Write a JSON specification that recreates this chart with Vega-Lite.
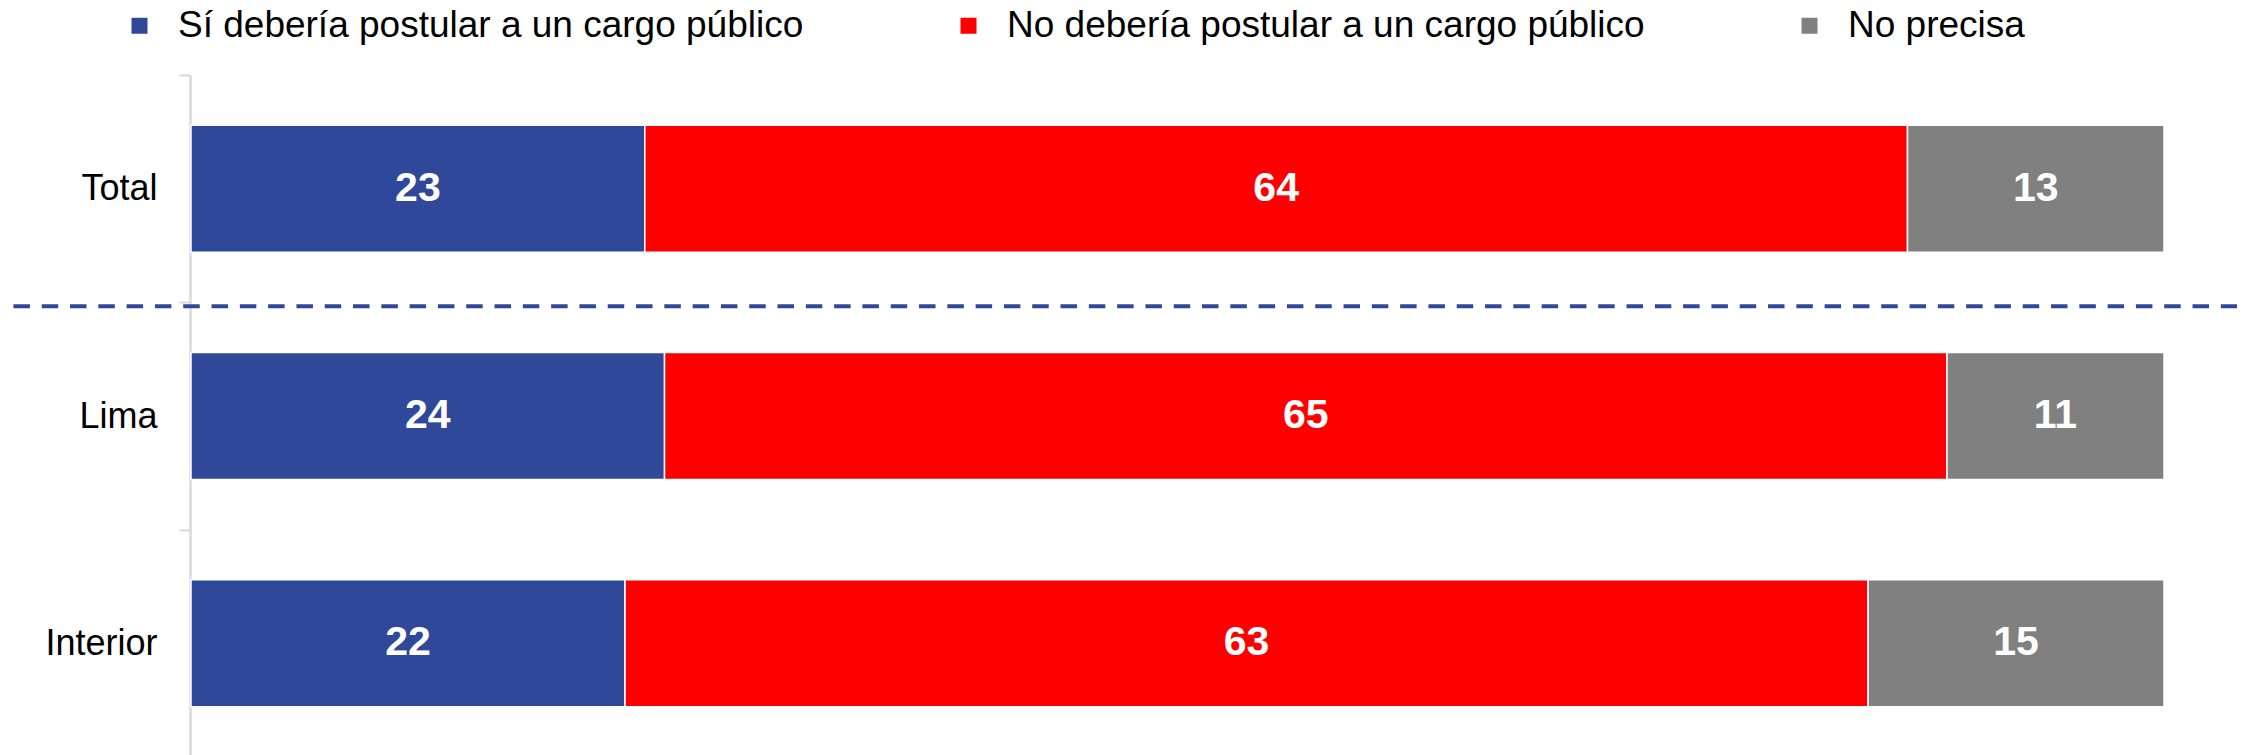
{
  "$schema": "https://vega.github.io/schema/vega-lite/v6.json",
  "width": 1973,
  "height": 680,
  "autosize": "none",
  "padding": {"left": 191, "top": 75, "right": 83, "bottom": 0},
  "background": "white",
  "config": {"view": {"stroke": null}, "font": "Liberation Sans"},
  "data": {
    "values": [
      {"zona": "Total", "respuesta": "Sí debería postular a un cargo público", "orden": 1, "valor": 23},
      {"zona": "Total", "respuesta": "No debería postular a un cargo público", "orden": 2, "valor": 64},
      {"zona": "Total", "respuesta": "No precisa", "orden": 3, "valor": 13},
      {"zona": "Lima", "respuesta": "Sí debería postular a un cargo público", "orden": 1, "valor": 24},
      {"zona": "Lima", "respuesta": "No debería postular a un cargo público", "orden": 2, "valor": 65},
      {"zona": "Lima", "respuesta": "No precisa", "orden": 3, "valor": 11},
      {"zona": "Interior", "respuesta": "Sí debería postular a un cargo público", "orden": 1, "valor": 22},
      {"zona": "Interior", "respuesta": "No debería postular a un cargo público", "orden": 2, "valor": 63},
      {"zona": "Interior", "respuesta": "No precisa", "orden": 3, "valor": 15}
    ]
  },
  "layer": [
    {
      "transform": [
        {"stack": "valor", "groupby": ["zona"], "sort": [{"field": "orden"}], "as": ["x0", "x1"]}
      ],
      "mark": {"type": "bar", "height": {"band": 0.5587}, "stroke": "white", "strokeWidth": 1.5},
      "encoding": {
        "y": {
          "field": "zona", "type": "nominal", "sort": null,
          "scale": {"domain": ["Total", "Lima", "Interior"], "paddingInner": 0, "paddingOuter": 0, "range": [0, 682]},
          "axis": {
            "title": null, "tickBand": "extent", "domainColor": "#d9d9d9", "domainWidth": 2.5,
            "tickColor": "#d9d9d9", "tickWidth": 2, "tickSize": 11, "labelFontSize": 36,
            "labelColor": "black", "labelPadding": 22, "offset": 1, "labelFont": "Liberation Sans"
          }
        },
        "x": {"field": "x0", "type": "quantitative", "scale": {"domain": [0, 100]}, "axis": null},
        "x2": {"field": "x1"},
        "color": {
          "field": "respuesta", "type": "nominal",
          "scale": {
            "domain": ["Sí debería postular a un cargo público", "No debería postular a un cargo público", "No precisa"],
            "range": ["#30489A", "#FF0000", "#808080"]
          },
          "legend": {
            "title": null, "orient": "none", "direction": "horizontal", "legendX": -70, "legendY": -68,
            "symbolType": "square", "symbolSize": 256, "symbolStrokeWidth": 0, "labelFontSize": 37,
            "labelColor": "black", "labelOffset": 20, "columnPadding": 146, "labelLimit": 1000,
            "labelFont": "Liberation Sans", "padding": 0
          }
        }
      }
    },
    {
      "transform": [
        {"stack": "valor", "groupby": ["zona"], "sort": [{"field": "orden"}], "as": ["x0", "x1"]},
        {"calculate": "(datum.x0 + datum.x1) / 2", "as": "xm"}
      ],
      "mark": {"type": "text", "color": "white", "fontWeight": "bold", "fontSize": 41, "baseline": "middle", "font": "Liberation Sans"},
      "encoding": {
        "y": {"field": "zona", "type": "nominal", "sort": null},
        "x": {"field": "xm", "type": "quantitative"},
        "text": {"field": "valor", "type": "quantitative"}
      }
    },
    {
      "data": {"values": [{"pos": "Lima"}]},
      "mark": {"type": "rule", "strokeDash": [16.5, 11.8], "strokeWidth": 4, "color": "#30489A", "clip": false, "yOffset": 4},
      "encoding": {
        "y": {"field": "pos", "type": "nominal", "sort": null, "bandPosition": 0},
        "x": {"datum": -9},
        "x2": {"datum": 103.7}
      }
    }
  ]
}
